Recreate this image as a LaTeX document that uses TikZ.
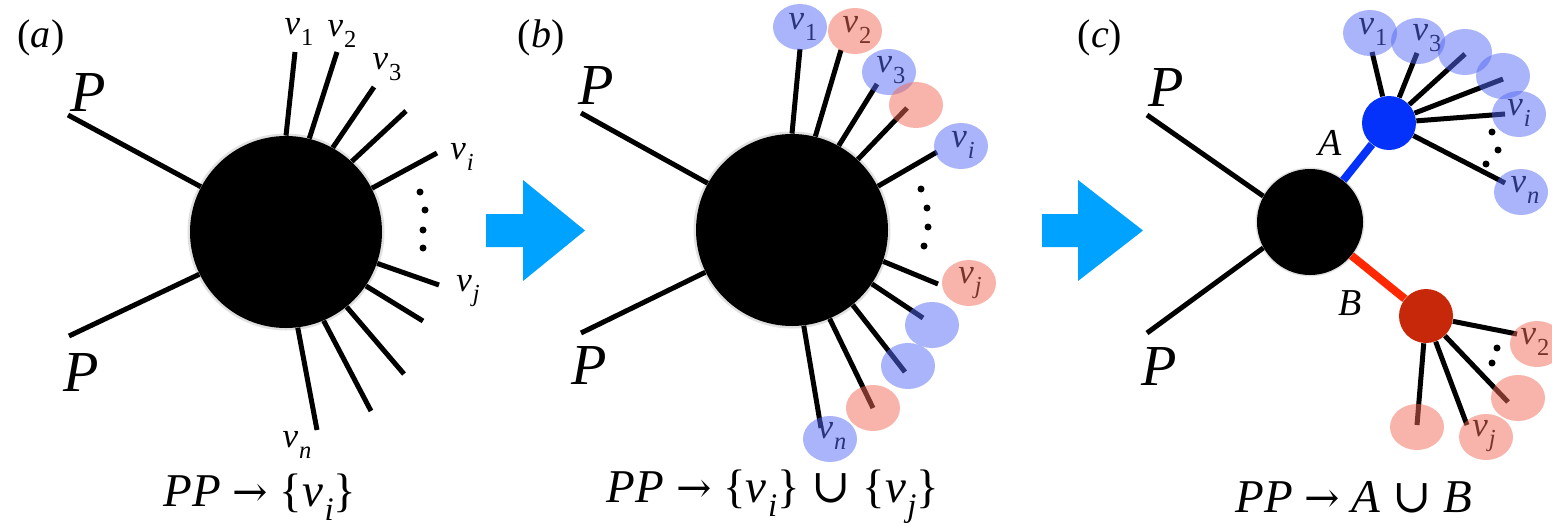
\documentclass[tikz,border=0pt]{standalone}
\usepackage{fontspec}
\setmainfont{Liberation Serif}
\newfontfamily\dvs{DejaVu Serif}
\usetikzlibrary{shapes.geometric}
\definecolor{arrowblue}{RGB}{0,162,255}
\definecolor{vblue}{RGB}{85,105,245}
\definecolor{vred}{RGB}{241,105,85}
\definecolor{Ablue}{RGB}{5,50,250}
\definecolor{Bred}{RGB}{200,40,10}
\definecolor{Bline}{RGB}{255,40,0}
\newcommand\vv[1]{\textit{v}\kern0.03em\raisebox{-0.3em}{\scalebox{0.7}{#1}}}
\newcommand\rar{{\dvs\scalebox{0.9}{→}}}
\newcommand\cupp{{\dvs ∪}}
\begin{document}
\begin{tikzpicture}[x=0.5pt,y=-0.5pt,
  spoke/.style={line width=2.5pt},
  blob/.style={circle, fill=black, inner sep=0pt},
  shade/.style={circle, fill=black, opacity=0.12, inner sep=0pt},
  lab/.style={font=\fontsize{17.5}{20}\selectfont, inner sep=0pt},
  plab/.style={font=\fontsize{29}{34}\selectfont\itshape, inner sep=0pt},
  ablab/.style={font=\fontsize{19}{22}\selectfont\itshape, inner sep=0pt},
  panel/.style={font=\fontsize{20}{24}\selectfont, inner sep=0pt},
  formula/.style={font=\fontsize{23.5}{28}\selectfont, inner sep=0pt},
  bell/.style={ellipse, fill=vblue, fill opacity=0.5, minimum width=27pt, minimum height=23pt, inner sep=0pt},
  rell/.style={ellipse, fill=vred, fill opacity=0.5, minimum width=27pt, minimum height=23pt, inner sep=0pt},
  dot/.style={circle, fill=black, inner sep=0pt, minimum size=3.5pt},
  bigarrow/.style={fill=arrowblue}]
\useasboundingbox (0,0) rectangle (1552,525);

% ---------------- panel (a)
\node[panel] (la) at (41,38) {(\textit{a})};
\node[shade, minimum size=98.5pt] at (286,232) {};
\node[blob, minimum size=96pt] (ca) at (286,232) {};
\coordinate (aP1) at (68,115);
\coordinate (aP2) at (69,336);
\draw[spoke] (aP1) -- (ca.152);
\draw[spoke] (aP2) -- (ca.206);
\node[plab] (aPl1) at (88,93) {P};
\node[plab] (aPl2) at (81,373) {P};
\coordinate (a1) at (295,52);
\coordinate (a2) at (337,52);
\coordinate (a3) at (374,87);
\coordinate (a4) at (406,111);
\coordinate (a5) at (437,153);
\coordinate (a6) at (439,285);
\coordinate (a7) at (423,321);
\coordinate (a8) at (404,374);
\coordinate (a9) at (371,411);
\coordinate (a10) at (317,430);
\draw[spoke] (a1) -- (ca.90);
\draw[spoke] (a2) -- (ca.76);
\draw[spoke] (a3) -- (ca.61);
\draw[spoke] (a4) -- (ca.47);
\draw[spoke] (a5) -- (ca.27);
\draw[spoke] (a6) -- (ca.-19);
\draw[spoke] (a7) -- (ca.-34);
\draw[spoke] (a8) -- (ca.-51);
\draw[spoke] (a9) -- (ca.-67);
\draw[spoke] (a10) -- (ca.-83.5);
\node[lab] (av1) at (299,32) {\vv{1}};
\node[lab] (av2) at (342,34) {\vv{2}};
\node[lab] (av3) at (387,67) {\vv{3}};
\node[lab] (avi) at (462,157) {\vv{\textit{i}}};
\node[lab] (avj) at (468,291) {\vv{\textit{j}}};
\node[lab] (avn) at (297,445) {\vv{\textit{n}}};
\node[dot] (ad1) at (420,192) {};
\node[dot] (ad2) at (425,210) {};
\node[dot] (ad3) at (423,230) {};
\node[dot] (ad4) at (423,248) {};
\node[formula] (fa) at (260,497) {\textit{PP} \rar{} \{\vv{\textit{i}}\}};

% arrow 1
\fill[bigarrow] (486,214) -- (523,214) -- (523,180) -- (585,230.5) -- (523,281) -- (523,247) -- (486,247) -- cycle;

% ---------------- panel (b)
\node[panel] (lb) at (541,38) {(\textit{b})};
\node[shade, minimum size=98.5pt] at (792,230) {};
\node[blob, minimum size=96pt] (cb) at (792,230) {};
\coordinate (bP1) at (581,113);
\coordinate (bP2) at (581,333);
\draw[spoke] (bP1) -- (cb.151);
\draw[spoke] (bP2) -- (cb.206);
\node[plab] (bPl1) at (596,86) {P};
\node[plab] (bPl2) at (589,366) {P};
\coordinate (b1) at (800,49);
\coordinate (b2) at (841,50);
\coordinate (b3) at (877,84);
\coordinate (b4) at (907,108);
\coordinate (b5) at (937,152);
\coordinate (b6) at (938,284);
\coordinate (b7) at (923,318);
\coordinate (b8) at (905,372);
\coordinate (b9) at (873,408);
\coordinate (b10) at (821,428);
\draw[spoke] (b1) -- (cb.90);
\draw[spoke] (b2) -- (cb.76);
\draw[spoke] (b3) -- (cb.61);
\draw[spoke] (b4) -- (cb.47);
\draw[spoke] (b5) -- (cb.27);
\draw[spoke] (b6) -- (cb.-19);
\draw[spoke] (b7) -- (cb.-34);
\draw[spoke] (b8) -- (cb.-51);
\draw[spoke] (b9) -- (cb.-67);
\draw[spoke] (b10) -- (cb.-83.5);
\node[lab] (bv1) at (803,27) {\vv{1}};
\node[lab] (bv2) at (857,30) {\vv{2}};
\node[lab] (bv3) at (891,70) {\vv{3}};
\node[lab] (bvi) at (963,145) {\vv{\textit{i}}};
\node[lab] (bvj) at (970,283) {\vv{\textit{j}}};
\node[lab] (bvn) at (832,436) {\vv{\textit{n}}};
\node[bell] (be1) at (800,27) {};
\node[rell] (be2) at (855,31) {};
\node[bell] (be3) at (889,72) {};
\node[rell] (be4) at (916,105) {};
\node[bell] (be5) at (961,146) {};
\node[rell] (be6) at (969,283) {};
\node[bell] (be7) at (932,325) {};
\node[bell] (be8) at (908,366) {};
\node[rell] (be9) at (873,408) {};
\node[bell] (be10) at (830,439) {};
\node[dot] (bd1) at (921,189) {};
\node[dot] (bd2) at (927,208) {};
\node[dot] (bd3) at (928,227) {};
\node[dot] (bd4) at (924,246) {};
\node[formula] (fb) at (773,497) {\textit{PP} \rar{} \{\vv{\textit{i}}\} \cupp{} \{\vv{\textit{j}}\}};

% arrow 2
\fill[bigarrow] (1042,214) -- (1078,214) -- (1078,180) -- (1143,230.5) -- (1078,281) -- (1078,247) -- (1042,247) -- cycle;

% ---------------- panel (c)
\node[panel] (lc) at (1100,38) {(\textit{c})};
\node[shade, minimum size=54.5pt] at (1310,222) {};
\node[blob, minimum size=53pt] (cc) at (1310,222) {};
\node[circle, fill=Ablue, inner sep=0pt, minimum size=27pt] (A) at (1389,123) {};
\node[circle, fill=Bred, inner sep=0pt, minimum size=27pt] (B) at (1426,316) {};
\coordinate (cP1) at (1147,115);
\coordinate (cP2) at (1147,333);
\draw[spoke] (cP1) -- (cc.151);
\draw[spoke] (cP2) -- (cc.209);
\node[plab] (cPl1) at (1166,88) {P};
\node[plab] (cPl2) at (1159,367) {P};
\draw[line width=4pt, Ablue] (cc) -- (A);
\draw[line width=4pt, Bline] (cc) -- (B);
\node[ablab] (Al) at (1330,143) {A};
\node[ablab] (Bl) at (1350,303) {B};
\coordinate (c1) at (1372,52);
\coordinate (c2) at (1417,53);
\coordinate (c3) at (1465,54);
\coordinate (c4) at (1503,79);
\coordinate (c5) at (1505,114);
\coordinate (c6) at (1505,183);
\draw[spoke] (c1) -- (A);
\draw[spoke] (c2) -- (A);
\draw[spoke] (c3) -- (A);
\draw[spoke] (c4) -- (A);
\draw[spoke] (c5) -- (A);
\draw[spoke] (c6) -- (A);
\coordinate (r1) at (1517,334);
\coordinate (r2) at (1508,402);
\coordinate (r3) at (1467,425);
\coordinate (r4) at (1417,425);
\draw[spoke] (r1) -- (B);
\draw[spoke] (r2) -- (B);
\draw[spoke] (r3) -- (B);
\draw[spoke] (r4) -- (B);
\node[lab] (cv1) at (1373,32) {\vv{1}};
\node[lab] (cv3) at (1427,38) {\vv{3}};
\node[lab] (cvi) at (1519,113) {\vv{\textit{i}}};
\node[lab] (cvn) at (1525,190) {\vv{\textit{n}}};
\node[lab] (cv2) at (1535,342) {\vv{2}};
\node[lab] (cvj) at (1484,436) {\vv{\textit{j}}};
\node[bell] (ce1) at (1370,33) {};
\node[bell] (ce2) at (1418,41) {};
\node[bell] (ce3) at (1465,52) {};
\node[bell] (ce4) at (1503,76) {};
\node[bell] (ce5) at (1519,114) {};
\node[bell] (ce6) at (1521,192) {};
\node[rell] (cr1) at (1537,344) {};
\node[rell] (cr2) at (1518,398) {};
\node[rell] (cr3) at (1486,437) {};
\node[rell] (cr4) at (1417,427) {};
\node[dot] (cd1) at (1492,132) {};
\node[dot] (cd2) at (1498,150) {};
\node[dot] (cd3) at (1486,164) {};
\node[dot] (cd4) at (1497,348) {};
\node[dot] (cd5) at (1492,363) {};
\node[formula] (fc) at (1354,497) {\textit{PP} \rar{} \textit{A} \cupp{} \textit{B}};
\end{tikzpicture}
\end{document}
